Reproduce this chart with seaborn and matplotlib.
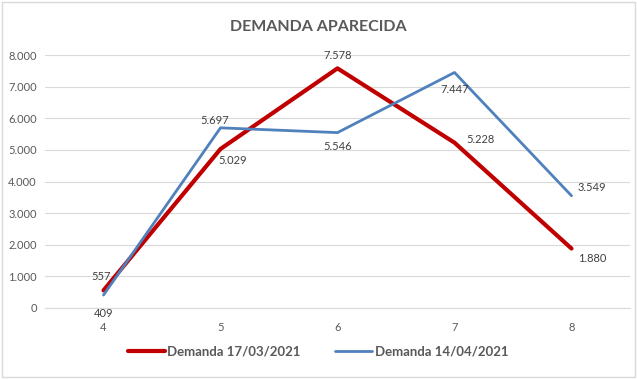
import pandas as pd
import matplotlib.pyplot as plt
import matplotlib.ticker as mticker
import seaborn as sns

# data
semanas = [4, 5, 6, 7, 8]
demanda_marzo = [557, 5029, 7578, 5228, 1880]
demanda_abril = [409, 5697, 5546, 7447, 3549]
series = ['Demanda 17/03/2021', 'Demanda 14/04/2021']

sns.set_style('white')
plt.rcParams['font.family'] = ['Lato', 'DejaVu Sans']

df = pd.DataFrame({
    'semana': semanas * 2,
    'demanda': demanda_marzo + demanda_abril,
    'serie': [series[0]] * 5 + [series[1]] * 5,
})

fig = plt.figure(figsize=(6.37, 3.79), dpi=100)
ax = fig.add_axes([45 / 637, 1 - 308 / 379, 585 / 637, 253 / 379])

colores = {series[0]: '#C00000', series[1]: '#4F81BD'}
sns.lineplot(data=df, x='semana', y='demanda', hue='serie', palette=colores,
             ax=ax, legend=False)
ax.lines[0].set_linewidth(3.0)
ax.lines[1].set_linewidth(2.0)

ax.set_xlim(3.5, 8.5)
ax.set_ylim(0, 8000)
ax.set_xticks(semanas)
ax.set_yticks(range(0, 8001, 1000))
fmt = mticker.FuncFormatter(lambda v, p: f'{int(v):,}'.replace(',', '.'))
ax.yaxis.set_major_formatter(fmt)
ax.grid(axis='y', color='#D9D9D9', linewidth=0.8)
for s in ['top', 'right', 'left']:
    ax.spines[s].set_visible(False)
ax.spines['bottom'].set_color('#D9D9D9')
ax.tick_params(axis='both', length=0, labelsize=8, colors='#595959')
ax.tick_params(axis='x', pad=10)
ax.tick_params(axis='y', pad=6)
ax.set_xlabel('')
ax.set_ylabel('')

# data labels (offset in points)
off_marzo = [(-2, 10), (9, -8), (0, 9), (19, 2), (15, -7)]
off_abril = [(0, -13), (-4, 5), (0, -10), (0, -12), (15, 6)]
for vals, offs in [(demanda_marzo, off_marzo), (demanda_abril, off_abril)]:
    for x, v, o in zip(semanas, vals, offs):
        ax.annotate(f'{v:,}'.replace(',', '.'), (x, v), xytext=o,
                    textcoords='offset points', ha='center', va='center',
                    fontsize=8, color='#404040')

fig.text(318 / 637, 1 - 27 / 379, 'DEMANDA APARECIDA', ha='center', va='center',
         fontsize=11.5, fontweight='bold', color='#595959')

handles = [plt.Line2D([], [], color=colores[s], lw=3.0 if i == 0 else 2.0)
           for i, s in enumerate(series)]
leg = fig.legend(handles, series, loc='center', bbox_to_anchor=(318 / 637, 1 - 352 / 379),
                 ncol=2, frameon=False, handlelength=2.8, columnspacing=2.6,
                 handletextpad=0.2, fontsize=9.5)
for t in leg.get_texts():
    t.set_color('#595959')
    t.set_fontweight('bold')

fig.patches.append(plt.Rectangle((0.003, 0.005), 0.994, 0.99, transform=fig.transFigure,
                                 fill=False, edgecolor='#D9D9D9', linewidth=1))

fig.savefig('out.png', dpi=100)
